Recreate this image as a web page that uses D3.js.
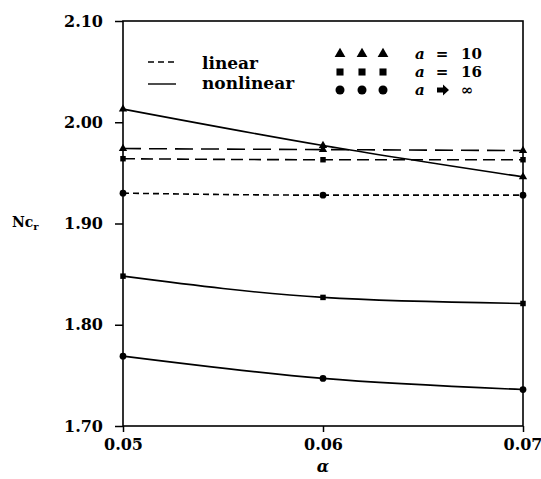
<!DOCTYPE html>
<html>
<head>
<meta charset="utf-8">
<script src="https://cdn.jsdelivr.net/npm/d3@7"></script>
<style>
  body { margin: 0; background: #fff; }
  text { font-family: "DejaVu Serif", serif; font-weight: bold; fill: #000; }
</style>
</head>
<body>
<svg id="chart" width="541" height="479"></svg>
<script>
// x values (alpha)
const alphas = [0.05, 0.06, 0.07];
const xTicks = [0.05, 0.06, 0.07];
const yTicks = [1.70, 1.80, 1.90, 2.00, 2.10];

// critical load Nc_r for each case
const linear10 = [1.974, 1.973, 1.972];
const linear16 = [1.964, 1.963, 1.963];
const linearInf = [1.930, 1.928, 1.928];
const nonlinear10 = [2.013, 1.977, 1.946];
const nonlinear16 = [1.848, 1.827, 1.821];
const nonlinearInf = [1.769, 1.747, 1.736];

const series = [
  { values: linear10, marker: 'triangle', dash: '18,8' },
  { values: linear16, marker: 'square', dash: '12,6' },
  { values: linearInf, marker: 'circle', dash: '6,4' },
  { values: nonlinear10, marker: 'triangle', dash: null },
  { values: nonlinear16, marker: 'square', dash: null },
  { values: nonlinearInf, marker: 'circle', dash: null }
];

const svg = d3.select('#chart');
const margin = { left: 123, right: 18, top: 21, bottom: 53 };
const width = 541 - margin.left - margin.right;
const height = 479 - margin.top - margin.bottom;

const x = d3.scaleLinear().domain([0.05, 0.07]).range([0, width]);
const y = d3.scaleLinear().domain([1.70, 2.10]).range([height, 0]);

const g = svg.append('g').attr('transform', `translate(${margin.left},${margin.top})`);

// frame
g.append('rect')
  .attr('width', width).attr('height', height)
  .attr('fill', 'none').attr('stroke', '#000').attr('stroke-width', 1.6);

// y axis
const yAxis = g.append('g')
  .call(d3.axisLeft(y).tickValues(yTicks).tickFormat(d3.format('.2f')).tickSize(8).tickPadding(12));
yAxis.select('.domain').remove();
yAxis.selectAll('line').attr('stroke-width', 1.5);
yAxis.selectAll('text').style('font-size', '16px').attr('font-family', null);

// x axis
const xAxis = g.append('g')
  .attr('transform', `translate(0,${height})`)
  .call(d3.axisBottom(x).tickValues(xTicks).tickFormat(d3.format('.2f')).tickSize(6).tickPadding(7));
xAxis.select('.domain').remove();
xAxis.selectAll('line').attr('stroke-width', 1.5);
xAxis.selectAll('text').style('font-size', '16px').attr('font-family', null);
// keep last label inside the page
xAxis.selectAll('text').filter(d => d === 0.07).attr('text-anchor', 'end').attr('dx', 19);

// axis titles
svg.append('text')
  .attr('x', margin.left + x(0.06)).attr('y', 472)
  .attr('text-anchor', 'middle')
  .style('font-size', '16px').style('font-style', 'italic')
  .text('α');

const ylab = svg.append('text')
  .attr('x', 12).attr('y', 227)
  .style('font-size', '14px');
ylab.append('tspan').text('Nc');
ylab.append('tspan').attr('dy', 3).style('font-size', '10px').text('r');

// lines
const line = d3.line()
  .x((d, i) => x(alphas[i]))
  .y(d => y(d))
  .curve(d3.curveMonotoneX);

const symbolFor = {
  triangle: d3.symbolTriangle,
  square: d3.symbolSquare,
  circle: d3.symbolCircle
};

series.forEach(s => {
  g.append('path')
    .datum(s.values)
    .attr('d', line)
    .attr('fill', 'none')
    .attr('stroke', '#000')
    .attr('stroke-width', 1.6)
    .attr('stroke-dasharray', s.dash);

  g.selectAll(null)
    .data(s.values)
    .enter().append('path')
    .attr('transform', (d, i) => `translate(${x(alphas[i])},${y(d)})`)
    .attr('d', d3.symbol().type(symbolFor[s.marker]).size(s.marker === 'circle' ? 36 : 30))
    .attr('fill', '#000');
});

// legend: line styles
const leg = svg.append('g');
leg.append('line')
  .attr('x1', 148).attr('x2', 176).attr('y1', 62).attr('y2', 62)
  .attr('stroke', '#000').attr('stroke-width', 1.4).attr('stroke-dasharray', '6,4');
leg.append('line')
  .attr('x1', 148).attr('x2', 176).attr('y1', 84).attr('y2', 84)
  .attr('stroke', '#000').attr('stroke-width', 1.4);
leg.append('text').attr('x', 202).attr('y', 69).style('font-size', '17px').text('linear');
leg.append('text').attr('x', 202).attr('y', 89).style('font-size', '17px').text('nonlinear');

// legend: markers
const markerRows = [
  { marker: 'triangle', label: '10', arrow: false },
  { marker: 'square', label: '16', arrow: false },
  { marker: 'circle', label: '∞', arrow: true }
];
const markerX = [340, 362, 383];
markerRows.forEach((r, j) => {
  const yy = 54 + j * 18;
  markerX.forEach(mx => {
    leg.append('path')
      .attr('transform', `translate(${mx},${yy})`)
      .attr('d', d3.symbol().type(symbolFor[r.marker]).size(r.marker === 'circle' ? 64 : 50))
      .attr('fill', '#000');
  });
  leg.append('text').attr('x', 415).attr('y', yy + 5)
    .style('font-size', '15px').style('font-style', 'italic').text('a');
  if (r.arrow) {
    leg.append('path')
      .attr('d', `M437,${yy - 2.5}H443V${yy - 5.5}L449,${yy}L443,${yy + 5.5}V${yy + 2.5}H437Z`)
      .attr('fill', '#000');
  } else {
    leg.append('text').attr('x', 442).attr('y', yy + 5).attr('text-anchor', 'middle')
      .style('font-size', '15px').text('=');
  }
  leg.append('text').attr('x', 461).attr('y', yy + 5)
    .style('font-size', '15px').text(r.label);
});
</script>
</body>
</html>
